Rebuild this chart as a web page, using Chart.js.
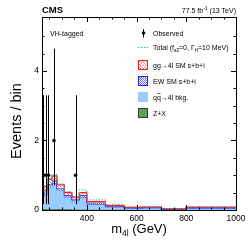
<!DOCTYPE html>
<html>
<head>
<meta charset="utf-8">
<script src="https://cdn.jsdelivr.net/npm/chart.js@4"></script>
<style>
  html, body { margin: 0; padding: 0; background: #fff; }
  canvas { display: block; }
</style>
</head>
<body>
<canvas id="chart" width="249" height="242"></canvas>
<script>
// bin edges of the m4l histogram (GeV)
const binEdges = [220, 240, 260, 280, 310, 340, 370, 400, 475, 550, 625, 700, 800, 900, 1000];

// expected events per bin, one array per process
const zxYield = [0.02, 0.02, 0.025, 0.025, 0.02, 0.015, 0.01, 0.01, 0.006, 0.004, 0.003, 0.002, 0.001, 0.001];
const qqYield = [0.46, 0.41, 0.645, 0.745, 0.56, 0.365, 0.26, 0.35, 0.164, 0.086, 0.047, 0.058, 0.019, 0.049];
const ewYield = [0.12, 0.15, 0.07, 0.08, 0.04, 0.05, 0.04, 0.07, 0.04, 0.02, 0.015, 0.015, 0.01, 0.02];
const ggYield = [0.12, 0.09, 0.14, 0.13, 0.10, 0.07, 0.06, 0.07, 0.03, 0.015, 0.01, 0.01, 0.005, 0.01];
// total for f_a3=0, Gamma_H=10 MeV
const altTotal = [0.75, 0.70, 0.92, 1.02, 0.75, 0.53, 0.39, 0.58, 0.29, 0.16, 0.095, 0.10, 0.04, 0.09];

// observed events
const obsMass = [226, 236, 246, 268, 355];
const obsCount = [1, 1, 1, 2, 1];
const obsErrLow = [0.83, 0.83, 0.83, 1.29, 0.83];
const obsErrHigh = [2.30, 2.30, 2.30, 2.64, 2.30];

const yTicks = [0, 2, 4];
const xTicks = [400, 600, 800, 1000];

const FONT = "'Liberation Sans', Arial, sans-serif";

// cumulative stack
function cumulate(...parts) {
    return parts[0].map((_, i) => parts.reduce((s, p) => s + p[i], 0));
}
const stackZx = cumulate(zxYield);
const stackQq = cumulate(zxYield, qqYield);
const stackEw = cumulate(zxYield, qqYield, ewYield);
const stackGg = cumulate(zxYield, qqYield, ewYield, ggYield);

// step points: value at left edge, last value repeated at the right edge
function steps(vals) {
    const pts = vals.map((v, i) => ({ x: binEdges[i], y: v }));
    pts.push({ x: binEdges[binEdges.length - 1], y: vals[vals.length - 1] });
    return pts;
}

function makePattern(size, color, test) {
    const c = document.createElement("canvas");
    c.width = size; c.height = size;
    const g = c.getContext("2d");
    g.fillStyle = "#fff";
    g.fillRect(0, 0, size, size);
    g.fillStyle = color;
    for (let x = 0; x < size; x++) {
        for (let y = 0; y < size; y++) {
            if (test(x, y)) g.fillRect(x, y, 1, 1);
        }
    }
    return document.getElementById("chart").getContext("2d").createPattern(c, "repeat");
}
const redHatch = makePattern(3, "rgba(245,110,110,0.9)", (x, y) => (x - y + 6) % 3 === 0);
const blueHatch = makePattern(2, "rgba(100,100,235,0.9)", (x, y) => (x + y) % 2 === 0);

// error bars, frame, ticks and all the text
const decorations = {
    id: "decorations",
    afterDatasetsDraw(chart) {
        const ctx = chart.ctx;
        const xs = chart.scales.x, ys = chart.scales.y;
        ctx.save();
        ctx.strokeStyle = "#000";
        ctx.lineWidth = 1;
        obsMass.forEach((m, i) => {
            const px = Math.round(xs.getPixelForValue(m)) + 0.5;
            ctx.beginPath();
            ctx.moveTo(px, ys.getPixelForValue(obsCount[i] - obsErrLow[i]));
            ctx.lineTo(px, ys.getPixelForValue(obsCount[i] + obsErrHigh[i]));
            ctx.stroke();
        });
        ctx.restore();
    },
    afterDraw(chart) {
        const ctx = chart.ctx;
        const a = chart.chartArea;
        const xs = chart.scales.x, ys = chart.scales.y;
        ctx.save();
        ctx.strokeStyle = "#000";
        ctx.lineWidth = 1;
        ctx.strokeRect(a.left + 0.5, a.top + 0.5, a.right - a.left, a.bottom - a.top);

        // x ticks (major every 200, minor every 50), bottom and top
        ctx.beginPath();
        for (let v = 250; v < 1000; v += 50) {
            const len = v % 200 === 0 ? 5 : 2.5;
            const px = Math.round(xs.getPixelForValue(v)) + 0.5;
            ctx.moveTo(px, a.bottom); ctx.lineTo(px, a.bottom - len);
            ctx.moveTo(px, a.top); ctx.lineTo(px, a.top + len);
        }
        // y ticks (major every 2, minor every 0.5), left and right
        for (let v = 0.5; v < 5.5; v += 0.5) {
            const len = v % 2 === 0 ? 5 : 2.5;
            const py = Math.round(ys.getPixelForValue(v)) + 0.5;
            ctx.moveTo(a.left, py); ctx.lineTo(a.left + len, py);
            ctx.moveTo(a.right, py); ctx.lineTo(a.right - len, py);
        }
        ctx.stroke();

        ctx.fillStyle = "#000";
        ctx.font = "8.5px " + FONT;
        ctx.textAlign = "right";
        ctx.textBaseline = "middle";
        yTicks.forEach(v => ctx.fillText(String(v), a.left - 3, ys.getPixelForValue(v)));
        ctx.textAlign = "center";
        ctx.textBaseline = "top";
        xTicks.forEach(v => ctx.fillText(String(v), xs.getPixelForValue(v), a.bottom + 4));

        // axis titles
        ctx.textBaseline = "alphabetic";
        ctx.textAlign = "left";
        ctx.font = "13px " + FONT;
        const mW = ctx.measureText("m").width;
        ctx.font = "8.5px " + FONT;
        const sW = ctx.measureText("4l").width;
        ctx.font = "13px " + FONT;
        const rest = " (GeV)";
        const rW = ctx.measureText(rest).width;
        let tx = (a.left + a.right) / 2 - (mW + sW + rW) / 2;
        const ty = 233;
        ctx.fillText("m", tx, ty);
        ctx.font = "8.5px " + FONT;
        ctx.fillText("4l", tx + mW, ty + 3);
        ctx.font = "13px " + FONT;
        ctx.fillText(rest, tx + mW + sW, ty);

        ctx.save();
        ctx.translate(21, 121);
        ctx.rotate(-Math.PI / 2);
        ctx.textAlign = "center";
        ctx.font = "14.5px " + FONT;
        ctx.fillText("Events / bin", 0, 0);
        ctx.restore();

        // header
        ctx.font = "bold 9.5px " + FONT;
        ctx.textAlign = "left";
        ctx.fillText("CMS", 42, 13);
        ctx.font = "7px " + FONT;
        ctx.textAlign = "right";
        const lumiTail = " (13 TeV)";
        const tailW = ctx.measureText(lumiTail).width;
        ctx.fillText(lumiTail, a.right, 13);
        ctx.font = "5px " + FONT;
        const supW = ctx.measureText("-1").width;
        ctx.fillText("-1", a.right - tailW, 10);
        ctx.font = "7px " + FONT;
        ctx.fillText("77.5 fb", a.right - tailW - supW, 13);

        ctx.textAlign = "left";
        ctx.fillText("VH-tagged", 50, 36);

        // legend
        const bx = 138, bw = 10, tx0 = 153;
        // observed
        ctx.beginPath();
        ctx.moveTo(bx + 5.5, 29); ctx.lineTo(bx + 5.5, 37.5);
        ctx.stroke();
        ctx.beginPath();
        ctx.arc(bx + 5.5, 33, 1.8, 0, Math.PI * 2);
        ctx.fill();
        ctx.fillText("Observed", tx0, 35.5);

        // total line
        ctx.save();
        ctx.strokeStyle = "#22b8c8";
        ctx.setLineDash([1.5, 1.5]);
        ctx.beginPath();
        ctx.moveTo(bx, 47.5); ctx.lineTo(bx + bw, 47.5);
        ctx.stroke();
        ctx.restore();
        let lx = tx0;
        const part = (t, size, dy) => {
            ctx.font = size + "px " + FONT;
            ctx.fillText(t, lx, 50 + dy);
            lx += ctx.measureText(t).width;
        };
        part("Total (f", 7, 0); part("a3", 4.5, 1.5); part("=0, \u0393", 7, 0);
        part("H", 4.5, 1.5); part("=10 MeV)", 7, 0);
        ctx.font = "7px " + FONT;

        const box = (y, fill, border) => {
            ctx.fillStyle = fill;
            ctx.fillRect(bx, y, bw, 10);
            if (border) {
                ctx.strokeStyle = border;
                ctx.strokeRect(bx + 0.5, y + 0.5, bw - 1, 9);
            }
            ctx.fillStyle = "#000";
        };
        box(60, redHatch, "#ff2020");
        ctx.fillText("gg\u21924l SM s+b+i", tx0, 68);
        box(76, blueHatch, "#2020ff");
        ctx.fillText("EW SM s+b+i", tx0, 83.5);
        box(92, "#99ccff", null);
        ctx.fillText("qq\u21924l bkg.", tx0, 99.5);
        // bar over the second q
        const qW = ctx.measureText("q").width;
        ctx.strokeStyle = "#000";
        ctx.lineWidth = 0.6;
        ctx.beginPath();
        ctx.moveTo(tx0 + qW + 0.3, 93.6); ctx.lineTo(tx0 + 2 * qW - 0.3, 93.6);
        ctx.stroke();
        ctx.lineWidth = 1;
        box(108, "#669966", "#1e4d1e");
        ctx.fillText("Z+X", tx0, 115.5);
        ctx.restore();
    }
};

new Chart(document.getElementById("chart"), {
    type: "line",
    data: {
        datasets: [
            {
                label: "Z+X",
                data: steps(stackZx),
                stepped: "after",
                borderColor: "#1e4d1e",
                backgroundColor: "#669966",
                borderWidth: 1,
                fill: "origin",
                order: 5
            },
            {
                label: "qq bkg",
                data: steps(stackQq),
                stepped: "after",
                borderColor: "#2a4fd0",
                backgroundColor: "#99ccff",
                borderWidth: 1,
                fill: 0,
                order: 4
            },
            {
                label: "EW SM s+b+i",
                data: steps(stackEw),
                stepped: "after",
                borderColor: "#2020ff",
                backgroundColor: blueHatch,
                borderWidth: 1.2,
                fill: 1,
                order: 3
            },
            {
                label: "gg SM s+b+i",
                data: steps(stackGg),
                stepped: "after",
                borderColor: "#ff2020",
                backgroundColor: redHatch,
                borderWidth: 1.2,
                fill: 2,
                order: 2
            },
            {
                label: "Total alt",
                data: steps(altTotal),
                stepped: "after",
                borderColor: "#22b8c8",
                borderDash: [1.5, 1.5],
                borderWidth: 1,
                fill: false,
                order: 1
            },
            {
                label: "Observed",
                data: obsMass.map((m, i) => ({ x: m, y: obsCount[i] })),
                showLine: false,
                pointRadius: 1.8,
                pointBackgroundColor: "#000",
                pointBorderWidth: 0,
                order: 0
            }
        ]
    },
    options: {
        responsive: false,
        animation: false,
        devicePixelRatio: 1,
        layout: { padding: { left: 42, right: 13, top: 17, bottom: 32 } },
        elements: { point: { radius: 0 } },
        scales: {
            x: { type: "linear", min: 220, max: 1000, display: false },
            y: { type: "linear", min: 0, max: 5.55, display: false }
        },
        plugins: {
            legend: { display: false },
            tooltip: { enabled: false }
        }
    },
    plugins: [decorations]
});
</script>
</body>
</html>
